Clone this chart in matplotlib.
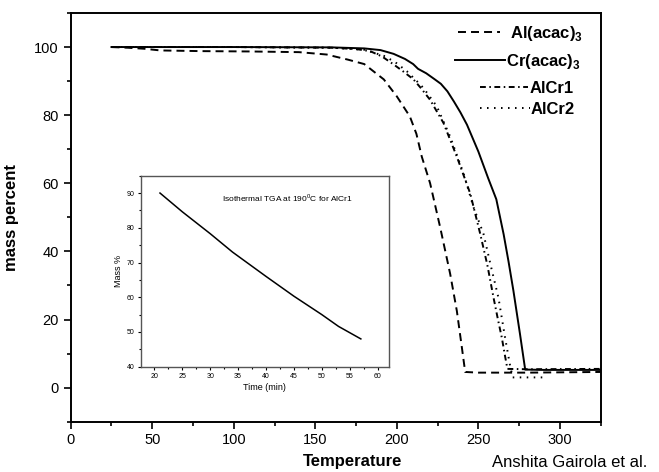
import numpy as np
import matplotlib
matplotlib.use('Agg')
import matplotlib.pyplot as plt
from matplotlib.ticker import MultipleLocator

plt.rcParams['font.family'] = ['Liberation Sans', 'DejaVu Sans']
plt.rcParams['mathtext.fontset'] = 'custom'
plt.rcParams['mathtext.rm'] = 'Liberation Sans'
plt.rcParams['mathtext.bf'] = 'Liberation Sans:bold'

# TGA curves (temperature, mass percent)
al_T = [25, 35, 45, 55, 80, 110, 140, 157, 170, 180, 192, 200, 208, 212, 215.3,
        220.4, 226.6, 232.7, 236.8, 239.9, 241.9, 250, 280, 325]
al_M = [100, 99.8, 99.5, 99.0, 98.8, 98.7, 98.5, 97.8, 96.3, 95.0, 90.5, 85.5,
        79.6, 74.5, 67.8, 60.0, 47.0, 33.4, 22.5, 11.7, 4.6, 4.4, 4.4, 4.6]

cr_T = [25, 100, 160, 180, 190, 198, 205, 210, 213, 218, 223, 227, 231, 235, 239,
        243, 250, 256, 261, 265.5, 268.5, 271.5, 275.5, 278.7, 290, 325]
cr_M = [100, 100, 99.9, 99.6, 99.1, 98.0, 96.5, 95.0, 93.6, 92.3, 90.6, 89.2,
        87.0, 84.0, 80.8, 77.2, 69.3, 61.5, 55.3, 45.0, 37.0, 28.4, 15.8, 5.3, 5.2, 5.2]

alcr1_T = [25, 100, 160, 175, 183.6, 191, 198, 204, 210.2, 215, 220.4, 228.6,
           236.8, 245, 251.1, 255.5, 259.3, 262, 264.4, 266, 267.8, 280, 325]
alcr1_M = [100, 100, 99.8, 99.4, 98.8, 97.2, 94.9, 92.8, 90.5, 87.8, 84.5, 77.7,
           67.8, 57.0, 45.2, 36.0, 26.4, 20.0, 14.6, 10.2, 5.5, 5.4, 5.5]

alcr2_T = [25, 100, 160, 180, 192.8, 200, 206.1, 211, 216.3, 224.5, 232.7,
           240.9, 247, 253.1, 258, 262.3, 266.4, 269.5, 271, 280, 290]
alcr2_M = [100, 100, 99.8, 99.2, 97.3, 95.2, 92.9, 90.6, 88.0, 82.6, 73.7,
           62.9, 53.0, 45.2, 35.0, 26.4, 14.6, 6.3, 3.0, 3.0, 3.0]

# isothermal inset (time in min, mass %)
iso_t = [21, 25, 30, 34, 40, 45, 50, 53, 57]
iso_m = [90, 84.6, 78.3, 73.0, 66.0, 60.3, 55.0, 51.6, 48.0]

labels = [r'Al(acac)$_\mathregular{3}$', r'Cr(acac)$_\mathregular{3}$', 'AlCr1', 'AlCr2']
dash_al = (4.1, 2.6)
dash_ad = (3.0, 1.8, 0.8, 1.8)
dash_dot = (0.8, 2.8)

fig = plt.figure(figsize=(6.59, 4.72), dpi=100)
ax = fig.add_axes([0.1073, 0.1066, 0.8042, 0.8659])

lw = 1.4
ax.plot(al_T, al_M, color='black', lw=lw, dashes=dash_al)
ax.plot(cr_T, cr_M, color='black', lw=lw)
ax.plot(alcr1_T, alcr1_M, color='black', lw=lw, dashes=dash_ad)
ax.plot(alcr2_T, alcr2_M, color='black', lw=lw, dashes=dash_dot)

ax.set_xlim(0, 325)
ax.set_ylim(-10, 110)
ax.xaxis.set_major_locator(MultipleLocator(50))
ax.xaxis.set_minor_locator(MultipleLocator(25))
ax.yaxis.set_major_locator(MultipleLocator(20))
ax.yaxis.set_minor_locator(MultipleLocator(10))
ax.tick_params(which='major', direction='out', length=5, width=1.2, labelsize=10.5)
ax.tick_params(which='minor', direction='out', length=3, width=1.2)
for s in ax.spines.values():
    s.set_linewidth(1.4)

ax.set_xlabel('Temperature', fontsize=12, fontweight='bold')
ax.xaxis.set_label_coords(0.532, -0.079)
ax.set_ylabel('mass percent', fontsize=12, fontweight='bold')
ax.yaxis.set_label_coords(-0.098, 0.5)

# hand-made legend like the original (line sample then label)
leg_rows = [
    (0.731, 0.810, 0.9543, 0.829, dict(dashes=dash_al)),
    (0.725, 0.819, 0.885, 0.821, dict()),
    (0.772, 0.863, 0.820, 0.865, dict(dashes=dash_ad)),
    (0.772, 0.867, 0.768, 0.868, dict(dashes=dash_dot)),
]
for (x0, x1, yy, xt, st), lab in zip(leg_rows, labels):
    ax.plot([x0, x1], [yy, yy], transform=ax.transAxes, color='black', lw=lw,
            clip_on=False, **st)
    ax.text(xt, yy - 0.015, lab, transform=ax.transAxes, fontsize=12,
            fontweight='bold', va='baseline', ha='left')

fig.text(0.746, 0.02, 'Anshita Gairola et al.', fontsize=12, va='center', ha='left')

# inset
ins = fig.add_axes([0.2140, 0.2231, 0.3759, 0.4047])
ins.plot(iso_t, iso_m, color='black', lw=1.1)
ins.set_xlim(17.6, 62)
ins.set_ylim(40, 95)
ins.xaxis.set_major_locator(MultipleLocator(5))
ins.xaxis.set_minor_locator(MultipleLocator(2.5))
ins.yaxis.set_major_locator(MultipleLocator(10))
ins.yaxis.set_minor_locator(MultipleLocator(5))
ins.tick_params(which='major', direction='out', length=2.5, width=0.8, labelsize=5, pad=2)
ins.tick_params(which='minor', direction='out', length=1.5, width=0.8)
for s in ins.spines.values():
    s.set_linewidth(1.0)
    s.set_color('#555555')
ins.set_xlabel('Time (min)', fontsize=6.5, labelpad=2)
ins.set_ylabel('Mass %', fontsize=6.5, labelpad=3)
ins.text(0.327, 0.885, r'Isothermal TGA at 190$^\mathregular{0}$C for AlCr1',
         transform=ins.transAxes, fontsize=6, ha='left', va='center')

fig.savefig('out.png', dpi=100)
